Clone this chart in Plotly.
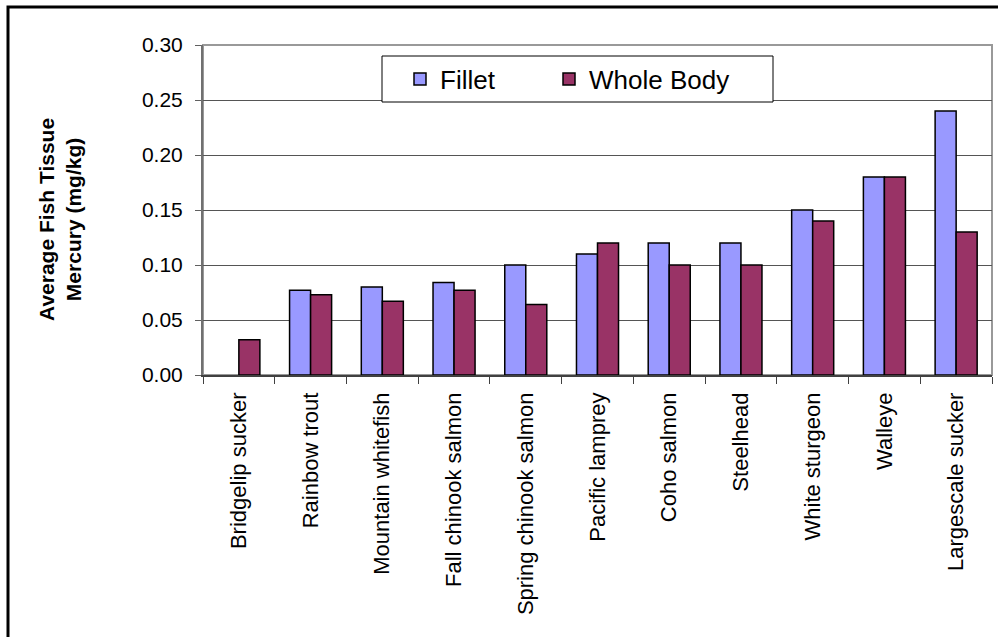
import plotly.graph_objects as go

# Average fish tissue mercury by species (mg/kg)
species = [
    "Bridgelip sucker", "Rainbow trout", "Mountain whitefish",
    "Fall chinook salmon", "Spring chinook salmon", "Pacific lamprey",
    "Coho salmon", "Steelhead", "White sturgeon", "Walleye",
    "Largescale sucker",
]
fillet = [None, 0.077, 0.080, 0.084, 0.100, 0.110, 0.120, 0.120, 0.150, 0.180, 0.240]
whole_body = [0.032, 0.073, 0.067, 0.077, 0.064, 0.120, 0.100, 0.100, 0.140, 0.180, 0.130]
y_ticks = [0.00, 0.05, 0.10, 0.15, 0.20, 0.25, 0.30]

FONT = "Liberation Sans, Arial, sans-serif"

fig = go.Figure()
fig.add_trace(go.Bar(
    name="Fillet", x=species, y=fillet, legend="legend",
    marker=dict(color="#9999FF", line=dict(color="black", width=1.5)),
))
fig.add_trace(go.Bar(
    name="Whole Body", x=species, y=whole_body, legend="legend2",
    marker=dict(color="#993366", line=dict(color="black", width=1.5)),
))

# plot-area geometry (pixels) used to place the frame and legend box
W, H = 998, 637
L, R, T, B = 203, 6, 45, 262
pw, ph = W - L - R, H - T - B

def px_x(p):
    return (p - L) / pw

def px_y(p):
    return (H - B - p) / ph

shapes = [
    # outer chart frame
    dict(type="rect", xref="paper", yref="paper",
         x0=px_x(8), x1=px_x(1200), y0=px_y(900), y1=px_y(7),
         line=dict(color="black", width=3), fillcolor="rgba(0,0,0,0)", layer="below"),
    # plot-area frame
    dict(type="rect", xref="paper", yref="paper", x0=0, x1=1, y0=0, y1=1,
         line=dict(color="#999999", width=2), fillcolor="rgba(0,0,0,0)", layer="below"),
    # legend box
    dict(type="rect", xref="paper", yref="paper",
         x0=px_x(382), x1=px_x(773), y0=px_y(102), y1=px_y(56),
         line=dict(color="black", width=1), fillcolor="white", layer="above"),
]

legend_style = dict(
    orientation="h", xanchor="left", yanchor="middle", y=px_y(79),
    bgcolor="rgba(0,0,0,0)", borderwidth=0,
    font=dict(family=FONT, size=26, color="black"),
)

fig.update_layout(
    width=W, height=H,
    margin=dict(l=L, r=R, t=T, b=B, pad=0),
    paper_bgcolor="white", plot_bgcolor="white",
    barmode="group", bargap=0.414, bargroupgap=0,
    font=dict(family=FONT, color="black", size=20),
    showlegend=True,
    legend=dict(x=px_x(400), **legend_style),
    legend2=dict(x=px_x(549), **legend_style),
    shapes=shapes,
    annotations=[dict(
        text="<b>Average Fish Tissue<br>Mercury (mg/kg)</b>",
        xref="paper", yref="paper", x=px_x(60), y=px_y(220),
        xanchor="center", yanchor="middle", textangle=-90, showarrow=False,
        font=dict(family=FONT, size=21, color="black"),
    )],
)

fig.update_xaxes(
    type="category", tickangle=-90, tickson="boundaries",
    ticks="outside", ticklen=7, tickcolor="#404040", tickwidth=1,
    showline=True, linecolor="#404040", linewidth=1.5,
    showgrid=False, tickfont=dict(family=FONT, size=22),
    ticklabelstandoff=7,
)
fig.update_yaxes(
    range=[0, 0.30], tickvals=y_ticks, ticktext=[f"{v:.2f}" for v in y_ticks],
    ticks="outside", ticklen=6, tickcolor="#606060", tickwidth=1,
    showline=True, linecolor="#707070", linewidth=2,
    showgrid=True, gridcolor="#555555", gridwidth=1,
    zeroline=False, tickfont=dict(family=FONT, size=21),
    ticklabelstandoff=8,
)

fig.write_html("out.html")
